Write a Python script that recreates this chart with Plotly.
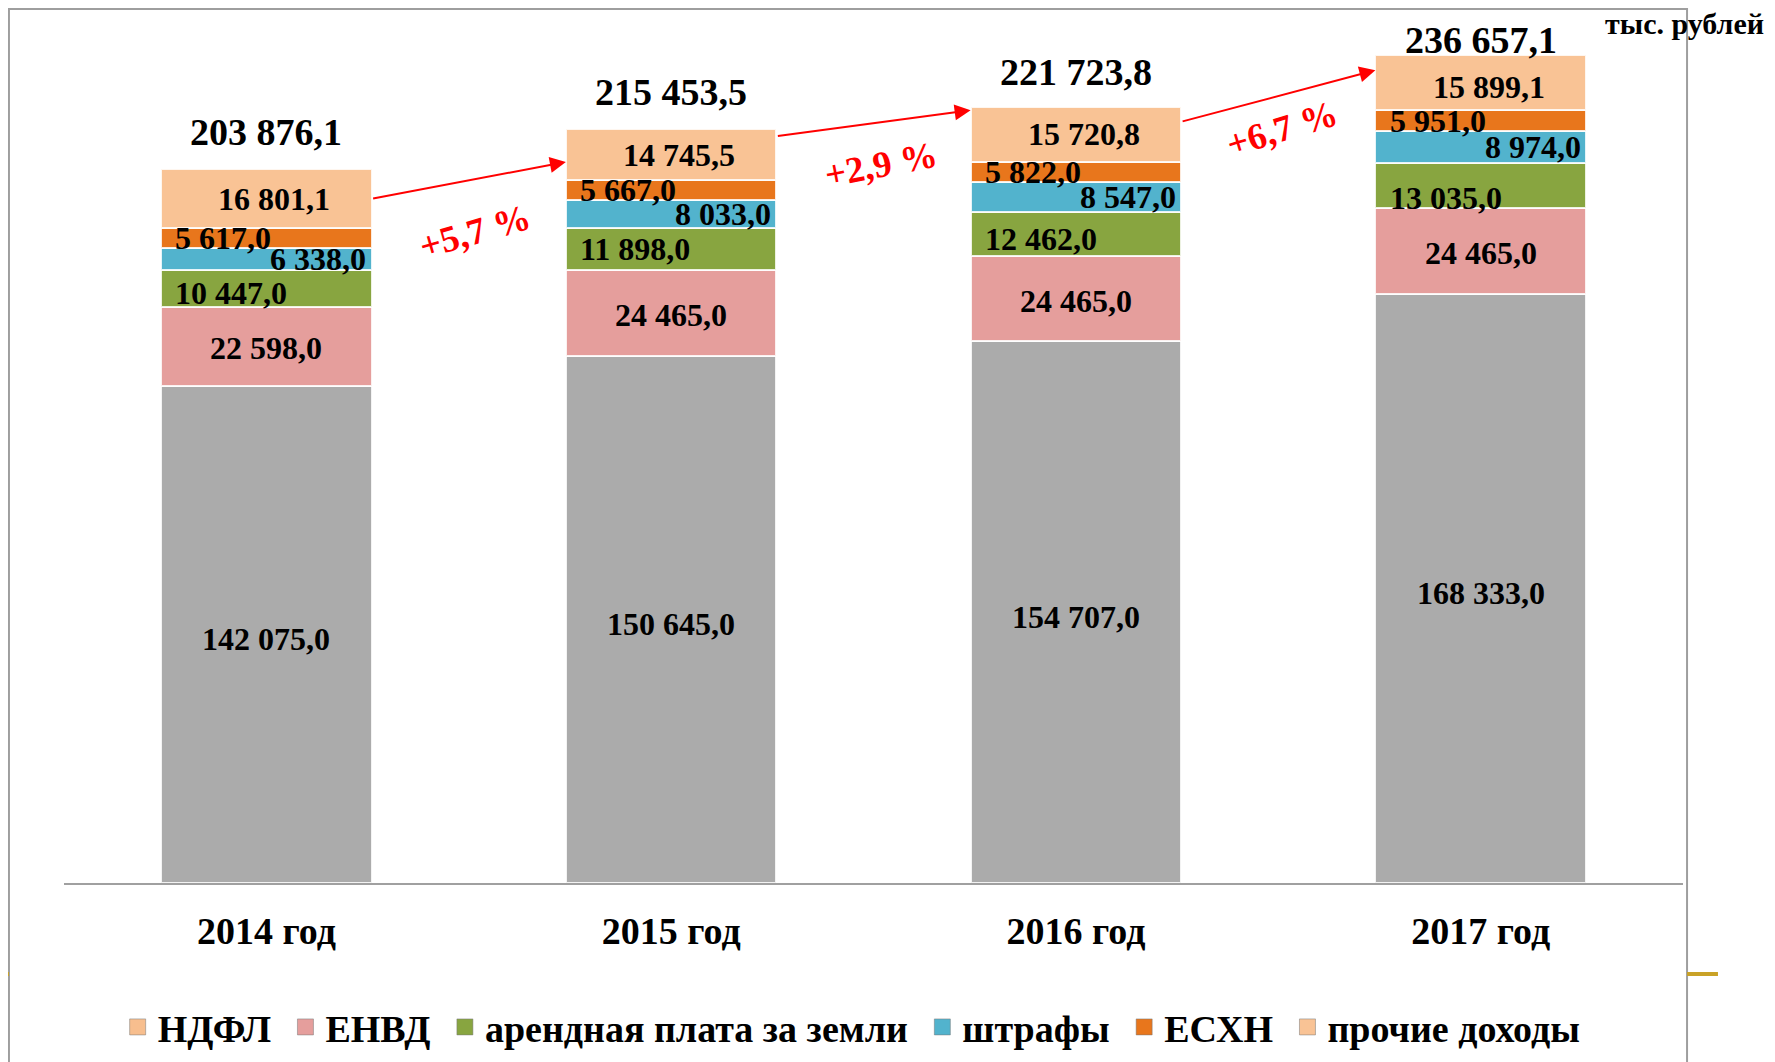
import plotly.graph_objects as go

# ---------------- data ----------------
years = ["2014 год", "2015 год", "2016 год", "2017 год"]
series_names = ["НДФЛ", "ЕНВД", "арендная плата за земли", "штрафы", "ЕСХН", "прочие доходы"]
ndfl = [142075.0, 150645.0, 154707.0, 168333.0]
envd = [22598.0, 24465.0, 24465.0, 24465.0]
arenda = [10447.0, 11898.0, 12462.0, 13035.0]
shtrafy = [6338.0, 8033.0, 8547.0, 8974.0]
eshn = [5617.0, 5667.0, 5822.0, 5951.0]
prochie = [16801.1, 14745.5, 15720.8, 15899.1]
unit_label = "тыс. рублей"

# ---------------- styles ----------------
FONT = "Liberation Serif"
bar_colors = ["#ABABAB", "#E59E9C", "#88A540", "#52B3CD", "#E8761C", "#F9C395"]
legend_colors = ["#F7BE8E", "#E59E9C", "#88A540", "#52B3CD", "#E8761C", "#F9C395"]
label_align = ["center", "center", "left", "right", "left", "center"]
label_xshift_center = [0, 0, 0, 0, 0, 8]
# per-series, per-year vertical nudges of the segment labels (pixels)
label_yshift = [
    [-5, -5, -5, -5],
    [-2, -2, -2, -2],
    [-5, 0, -5, -13],
    [0, 0, 0, 0],
    [0, 0, 0, 0],
    [0, 0, 0, -5],
]
BAR_W = 0.52
HALF_PX = 105
total_yshift = [14, 14, 12, -8]
arrow_start_frac = [0.50, 0.14, 0.27]
arrow_end_frac = [0.64, 0.06, 0.28]
pct_yshift = [-51, -41, -32]
pct_xshift = [6, 7, 4]
pct_angle = [-16, -11, -17]

series = [ndfl, envd, arenda, shtrafy, eshn, prochie]


def fmt(v):
    return f"{v:,.1f}".replace(",", " ").replace(".", ",")


fig = go.Figure()
for name, vals, col in zip(series_names, series, bar_colors):
    fig.add_trace(go.Bar(
        x=years, y=vals, name=name, width=BAR_W,
        marker=dict(color=col, line=dict(color="rgba(255,255,255,0.85)", width=2)),
        showlegend=False, hoverinfo="x+y+name",
    ))
# legend-only entries (colours as in the reference legend)
for name, col in zip(series_names, legend_colors):
    fig.add_trace(go.Scatter(x=[None], y=[None], mode="markers", name=name + "\u00a0",
                             marker=dict(symbol="square", size=16, color=col,
                                         line=dict(color="rgba(120,120,120,0.5)", width=1)),
                             showlegend=True))

annotations = []
totals = [sum(s[i] for s in series) for i in range(len(years))]

# segment labels
for i, yr in enumerate(years):
    base = 0.0
    for k, vals in enumerate(series):
        v = vals[i]
        mid = base + v / 2
        base += v
        al = label_align[k]
        if al == "left":
            xa, xs = "left", -HALF_PX + 12
        elif al == "right":
            xa, xs = "right", HALF_PX - 3
        else:
            xa, xs = "center", label_xshift_center[k]
        annotations.append(dict(
            x=yr, y=mid, xref="x", yref="y", text=f"<b>{fmt(v)}</b>",
            showarrow=False, xanchor=xa, yanchor="middle", xshift=xs,
            yshift=label_yshift[k][i],
            font=dict(family=FONT, size=32, color="black"),
        ))

# totals
for i, yr in enumerate(years):
    annotations.append(dict(
        x=yr, y=totals[i], xref="x", yref="y", text=f"<b>{fmt(totals[i])}</b>",
        showarrow=False, xanchor="center", yanchor="bottom", yshift=total_yshift[i],
        font=dict(family=FONT, size=38, color="black"),
    ))

# growth arrows and percentages
for i in range(len(years) - 1):
    y_start = totals[i] - prochie[i] * arrow_start_frac[i]
    y_end = totals[i + 1] - prochie[i + 1] * arrow_end_frac[i]
    annotations.append(dict(
        x=i + 1 - BAR_W / 2, y=y_end, ax=i + BAR_W / 2, ay=y_start,
        xref="x", yref="y", axref="x", ayref="y", text="",
        showarrow=True, arrowhead=2, arrowsize=1.6, arrowwidth=2, arrowcolor="#FF0000",
        standoff=0, startstandoff=0,
    ))
    pct = (totals[i + 1] / totals[i] - 1) * 100
    pct_txt = f"+{pct:.1f} %".replace(".", ",")
    annotations.append(dict(
        x=i + 0.5, y=(y_start + y_end) / 2, xref="x", yref="y",
        text=f"<b>{pct_txt}</b>", showarrow=False, textangle=pct_angle[i],
        yshift=pct_yshift[i], xshift=pct_xshift[i], xanchor="center", yanchor="middle",
        font=dict(family=FONT, size=37, color="#FF0000"),
    ))

annotations.append(dict(
    x=1.0513, y=1.008, xref="paper", yref="paper", text=f"<b>{unit_label}</b>",
    showarrow=False, xanchor="right", yanchor="middle",
    font=dict(family=FONT, size=30, color="black"),
))

shapes = [
    dict(type="rect", xref="paper", yref="paper", x0=-0.034, x1=1.0025, y0=-0.3, y1=1.0246,
         line=dict(color="#9E9E9E", width=2), fillcolor="rgba(0,0,0,0)", layer="below"),
    dict(type="line", xref="paper", yref="paper", x0=-0.045, x1=-0.034, y0=-0.1067, y1=-0.1067,
         line=dict(color="#C9A227", width=4)),
    dict(type="line", xref="paper", yref="paper", x0=1.0025, x1=1.0216, y0=-0.1067, y1=-0.1067,
         line=dict(color="#C9A227", width=4)),
]

fig.update_layout(
    barmode="stack",
    width=1767, height=1054,
    margin=dict(l=56, r=92, t=22, b=179, autoexpand=False),
    paper_bgcolor="white", plot_bgcolor="white",
    font=dict(family=FONT, color="black"),
    annotations=annotations,
    shapes=shapes,
    legend=dict(orientation="h", xref="container", yref="container",
                x=0.48, y=0.033, xanchor="center", yanchor="middle",
                font=dict(family=FONT, size=38, color="black", weight="bold"),
                traceorder="normal", bgcolor="rgba(0,0,0,0)", itemwidth=30),
    xaxis=dict(categoryorder="array", categoryarray=years, range=[-0.5, 3.5],
               showline=True, linecolor="#A0A0A0", linewidth=2, ticks="",
               tickfont=dict(family=FONT, size=38, color="black", weight="bold"),
               ticklabelstandoff=13, showgrid=False, zeroline=False, fixedrange=True),
    yaxis=dict(range=[0, 243700], visible=False, showgrid=False, zeroline=False, fixedrange=True),
)

fig.write_html("out.html")
